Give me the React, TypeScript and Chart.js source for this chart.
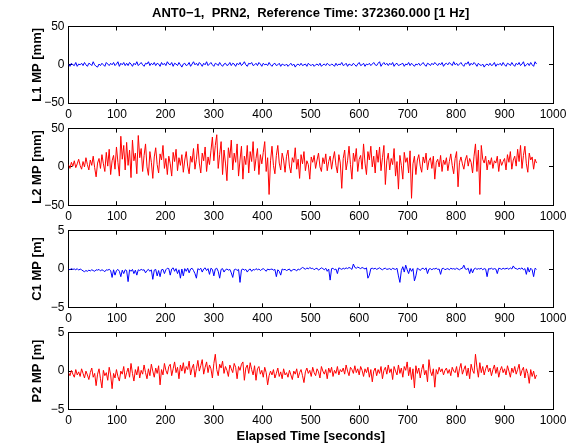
import React, { useEffect, useRef } from "react";
import { Chart, registerables } from "chart.js";

Chart.register(...registerables);

// ---------- data (one sample every 3 s) ----------
const SAMPLE_STEP_S = 3;

const L1_MP_MM = [
  1, -2, 2, 0, -1, 3, -2, 1, 0, 2,
  -1, 3, 0, -2, 2, 1, -1, 4, 0, -2,
  -3, 1, -1, 2, 0, -2, 3, 1, -1, 2,
  0, 3, -1, 1, 4, -2, 2, 0, 3, -1,
  2, -1, 3, 1, -2, 2, 0, 4, -1, 1,
  3, 0, -2, 2, 1, 4, -1, 2, 0, 3,
  -1, 2, 1, -2, 3, 0, 2, -1, 4, 1,
  0, 3, -2, 2, 1, -1, 3, 0, -3, 1,
  2, -1, 0, 3, -2, 1, 4, 0, 2, -1,
  3, 1, -2, 2, 0, 4, -1, 1, 3, 0,
  -2, 2, 1, -1, 3, 0, -2, 1, 2, -1,
  0, 3, -1, 2, 1, -2, 2, 0, 3, -1,
  1, 4, 0, -2, 2, 1, 3, -1, 0, 2,
  -1, 3, 1, -2, 2, 0, 1, -1, 3, 0,
  -2, 1, 2, -1, 0, 2, -2, 1, 0, -1,
  1, -2, 0, 2, -1, 1, -3, 0, 1, -1,
  2, -1, 0, 1, -2, 2, 0, -1, 1, -2,
  0, 1, -1, 2, -2, 0, 1, -1, 2, 0,
  -1, 1, 0, -2, 2, -1, 1, 0, 3, -1,
  0, 2, -2, 1, 0, -1, 2, 0, -2, 1,
  3, -1, 0, 2, -2, 1, 0, 2, -1, 1,
  3, 0, -1, 2, 4, -2, 1, 3, 0, 2,
  -1, 2, 0, 3, -2, 1, 2, -1, 0, 1,
  2, -2, 1, 0, 3, -1, 2, 0, -2, 1,
  0, 2, -1, 1, 3, 0, -2, 2, 1, -1,
  2, 0, 3, 1, -1, 2, 0, 3, -2, 1,
  2, 0, 3, 1, -1, 4, 0, 2, -1, 1,
  3, 0, -2, 2, 1, 4, -1, 2, 0, 3,
  1, -2, 2, 0, -1, 1, -3, 0, 1, -1,
  2, -1, 0, 3, -2, 1, 0, 2, -1, 3,
  0, -2, 2, 1, -1, 3, 0, -2, 2, 0,
  3, -1, 1, 4, -2, 0, 2, -1, 3, 0,
  -2, 4, 1,
];

const L2_MP_MM = [
  3, -2, 6, 1, 8, -1, 4, 10, 2, -3,
  7, 0, 12, 3, -4, 9, 2, 14, -1, -13,
  5, 11, -2, 16, 4, -6, 19, 1, 23, -10,
  8, 15, -3, 26, 6, -12, 40, 10, 28, -4,
  32, 2, 22, -14, 35, 8, 18, -9, 41, 12,
  24, -6, 15, 30, 0, -11, 20, 6, -15, 13,
  25, 3, -8, 17, 9, 28, -2, 11, -10, 14,
  4, -12, 19, 7, 23, -5, 12, 2, 16, -7,
  9, 20, 1, -9, 14, 6, 24, -3, 10, 30,
  5, -8, 18, 8, 26, -6, 13, 3, 21, 39,
  8, 28, 42, -2, 16, 33, -10, 22, 5, -18,
  25, 12, 35, -4, 18, 6, 30, -12, 9, 27,
  -16, 14, 3, 28, -8, 20, 7, 33, -5, 11,
  24, -10, 16, 4, 19, 33, -6, 12, -36, 8,
  27, 2, -9, 15, 28, 5, -4, 18, 9, -7,
  14, 22, 1, -8, 12, 6, 25, -3, 10, -15,
  16, 4, 20, -5, 8, 3, -16, 13, 6, 15,
  -2, 9, 18, 0, -6, 12, 4, 17, -5, 7,
  14, -3, 10, 20, 2, -8, 16, 5, -28, 11,
  22, -4, 8, 27, 3, -16, 18, 7, 24, -6,
  10, 15, -3, 30, 5, -10, 20, 9, 27, 0,
  14, -8, 22, 6, 26, -5, 12, 28, -23, 8,
  18, -4, 11, 3, 24, -12, 7, -29, 15, 2,
  -16, 19, 6, 12, -8, 21, -41, 4, 14, -10,
  9, 16, 1, -7, 13, 5, 18, -4, 8, 12,
  -2, 14, -16, 6, 10, 0, 15, -6, 9, 3,
  12, -5, 7, 17, 2, -9, 11, 20, -26, 6,
  13, 4, -3, 9, 15, 1, 11, 6, -8, 14,
  30, -6, 22, -36, 28, 10, 5, 14, -4, 9,
  3, 12, -2, 8, 5, 14, -6, 10, 2, 7,
  11, -4, 16, 6, 20, -3, 9, 14, 1, 23,
  7, 28, -2, 15, 27, 4, -7, 18, 9, 13,
  -3, 10, 5,
];

const C1_MP_M = [
  0.0, -0.1, 0.05, -0.05, 0.0, -0.1, 0.05, -0.15, 0.0, -0.1,
  -0.25, -0.35, -0.2, -0.3, -0.15, -0.25, -0.1, -0.2, -0.3, -0.1,
  -0.15, -0.05, -0.25, -0.1, -0.2, -0.35, -0.1, -0.15, -0.05, -0.2,
  -1.1, -0.1, -0.8, -0.2, -0.05, -0.3, -1.0, -0.15, -0.6, -0.1,
  -0.2, -1.65, -0.1, -0.3, -0.05, -0.6, -0.15, -0.8, -0.1, -0.2,
  -0.05, -0.15, -0.1, -0.5, -0.2, -0.05, -0.3, -0.1, -1.35, -0.15,
  -0.05, -0.9, -0.2, -1.0, -0.1, -0.05, -0.6, -0.1, 0.1, 0.05,
  -0.8, 0.0, 0.15, -0.3, 0.05, -0.6, -0.1, -1.2, 0.0, -0.9,
  0.05, -0.3, 0.1, -0.5, 0.0, 0.1, -0.2, -0.6, -1.2, 0.05,
  -0.1, 0.1, -0.4, 0.0, 0.15, -0.2, 0.05, -0.7, 0.1, -0.05,
  -0.9, 0.0, 0.1, -0.3, -1.2, -0.05, 0.05, -0.4, -0.1, 0.0,
  -0.15, -0.05, -0.5, -1.1, -0.1, 0.0, -0.2, -0.05, -1.75, -0.1,
  0.0, -0.15, -0.05, -0.4, -0.1, 0.0, -0.3, -0.05, -0.15, 0.05,
  -0.1, 0.0, -0.2, -0.05, 0.05, -0.1, -0.3, 0.0, -0.1, -0.05,
  0.0, -0.15, -0.05, -1.0, -0.1, -0.3, -0.8, 0.0, -0.1, -0.05,
  -0.2, -0.1, 0.0, -0.3, -0.15, -0.05, -0.1, -0.25, 0.0, -0.1,
  0.05, 0.2, 0.1, -0.05, 0.15, 0.0, 0.2, 0.05, 0.1, -0.1,
  0.05, 0.1, -0.15, 0.0, 0.15, 0.05, -0.1, 0.1, -0.3, 0.0,
  -1.45, 0.05, 0.1, -0.1, 0.0, -0.6, 0.15, 0.05, -0.05, 0.1,
  0.0, 0.15, 0.05, 0.2, 0.1, -0.05, 0.65, 0.2, 0.1, 0.25,
  0.15, 0.05, 0.2, 0.1, 0.0, 0.15, -1.2, -0.8, 0.05, 0.1,
  0.0, 0.1, -0.05, 0.05, 0.15, 0.0, -0.1, 0.05, 0.1, -0.05,
  0.0, 0.05, -0.1, 0.1, 0.0, -0.05, 0.1, -0.9, -1.75, -0.2,
  0.3, -0.4, 0.5, -0.1, -0.6, 0.1, -0.3, 0.05, -1.55, -0.9,
  0.1, 0.0, -0.2, 0.05, 0.1, -0.1, 0.15, -0.6, 0.0, 0.05,
  -0.1, 0.05, 0.0, 0.1, -0.05, 0.0, -0.7, 0.05, 0.1, -0.1,
  0.0, 0.05, -0.1, 0.1, 0.0, 0.05, -0.05, 0.1, 0.0, -0.1,
  0.05, 0.1, 0.5, 0.0, -0.05, 0.1, -0.6, 0.05, -0.5, 0.0,
  0.1, -0.05, 0.05, 0.0, 0.1, -0.1, 0.05, 0.0, -1.0, 0.05,
  0.0, 0.1, -0.05, 0.05, 0.0, -0.6, 0.1, 0.05, -0.05, 0.1,
  0.0, 0.05, 0.1, -0.05, 0.15, 0.0, 0.4, 0.1, 0.05, -0.05,
  0.1, 0.0, 0.15, -0.1, 0.05, -0.7, 0.2, -0.4, 0.1, -0.1,
  -1.0, 0.1, -0.05,
];

const P2_MP_M = [
  -0.2, -0.6, 0.1, -0.4, -0.8, 0.2, -0.5, -0.1, -0.7, 0.3,
  -0.3, -0.9, 0.0, -0.5, -1.1, -0.2, 0.4, -0.8, -0.3, -1.9,
  -0.4, 0.3, -1.0, -2.2, 0.1, -0.6, -0.2, -1.2, 0.5, -0.5,
  -2.3, -0.3, -0.9, 0.2, -0.7, -1.3, 0.0, -0.4, 0.6, -1.0,
  -0.2, 0.4, -0.8, 1.0, -0.3, -1.3, 0.2, -0.5, 0.6, -0.9,
  0.1, -0.4, 0.8, -0.2, -1.0, 0.3, -0.6, 0.9, 0.0, -0.8,
  0.4, -0.3, 0.7, -1.8, 0.2, -0.5, 1.0, 0.1, -0.4, 0.6,
  0.9, -0.6, 0.3, 1.2, -0.2, 0.5, -1.0, 0.8, 0.0, 1.1,
  -0.3, 0.6, 0.2, 1.3, -0.5, 0.4, 0.9, -0.8, 0.3, 1.4,
  0.0, 0.7, 1.5, -0.4, 0.5, 1.2, -0.2, 0.8, 0.3, -0.9,
  1.0, 2.2, 0.2, -0.6, 0.9, 0.4, 1.3, -0.3, 0.6, 0.1,
  -0.7, 0.8, 0.3, -0.2, 1.0, 0.5, -1.0, 0.6, 0.1, 0.9,
  1.2, -1.2, 0.4, 0.8, -0.3, 1.1, 0.2, -0.5, 0.7, -1.2,
  0.3, 0.6, -0.4, 0.1, -0.8, 0.5, -0.2, -1.8, -0.6, 0.0,
  -0.5, 0.2, -0.9, -0.3, 0.4, -0.7, -0.1, -1.0, 0.3, -0.5,
  -0.2, -0.8, 0.1, -0.5, -1.1, 0.0, -0.4, 0.3, -0.9, -0.2,
  0.2, -0.6, -1.5, -0.1, 0.4, -0.3, 0.1, -0.7, 0.5, -0.2,
  -0.6, 0.3, -0.1, -0.9, 0.6, 0.0, -0.4, 0.2, -1.0, 0.4,
  -0.2, 0.5, -0.7, 0.1, -0.3, 0.6, -0.5, 0.2, -0.1, 0.4,
  -0.4, 0.8, 0.0, -0.6, 0.5, 0.2, -0.3, 0.7, -0.2, 0.3,
  -0.5, 0.6, 0.1, -0.7, 0.3, -0.2, 0.5, -0.8, 0.2, -1.4,
  0.0, 0.4, -0.6, 0.2, -0.3, 0.6, -1.0, 0.1, 0.5, -0.4,
  0.8, -0.2, 0.3, -1.1, 0.6, 0.0, -0.5, 0.8, -0.3, 0.4,
  -0.8, 0.6, 0.1, 1.2, -0.6, 0.5, -1.1, 0.3, -2.2, 0.7,
  -0.3, 0.4, -0.9, 0.2, 0.9, -0.5, 0.1, -1.4, 1.5, 0.0,
  -0.6, 0.3, -2.1, 0.2, -0.4, 0.5, -0.1, 0.3, -0.5, 0.1,
  0.4, -0.3, 0.2, -0.6, 0.5, 0.0, -0.2, 0.6, -0.8, 0.3,
  1.0, -0.4, 0.2, 0.7, -0.6, 0.4, -1.0, 0.9, 0.1, -0.3,
  2.2, 0.5, -0.8, 1.1, -0.2, 0.6, -0.5, 0.3, 0.8, -0.1,
  0.4, -0.6, 0.2, 0.8, -0.3, 0.5, -0.8, 0.1, 0.6, -0.2,
  0.3, -0.5, 0.7, 0.0, -0.8, 0.4, -0.2, 0.6, -0.4, 0.2,
  0.9, -0.6, 0.1, 0.5, -0.9, 0.3, -0.3, -1.6, 0.2, -0.7,
  0.0, -1.0, -0.5,
];

const X_MIN = 0;
const X_MAX = 1000;
const X_STEP = 100;
const MM_RANGE = [-50, 50];
const MM_STEP = 50;
const M_RANGE = [-5, 5];
const M_STEP = 5;

const TITLE = "ANT0\u22121,  PRN2,  Reference Time: 372360.000 [1 Hz]";
const X_TITLE = "Elapsed Time [seconds]";
const Y_TITLES = ["L1 MP [mm]", "L2 MP [mm]", "C1 MP [m]", "P2 MP [m]"];
const SERIES = [L1_MP_MM, L2_MP_MM, C1_MP_M, P2_MP_M];
const COLORS = ["#0000ff", "#ff0000", "#0000ff", "#ff0000"];
const RANGES = [MM_RANGE, MM_RANGE, M_RANGE, M_RANGE];
const STEPS = [MM_STEP, MM_STEP, M_STEP, M_STEP];

// ---------- layout ----------
const FIG_W = 579;
const FIG_H = 444;
const AX_LEFT = 68.5;
const AX_RIGHT = 553;
const AX_TOPS = [26.5, 128.6, 230.7, 332.8];
const AX_HEIGHT = 76.6;
const Y_BOX_W = 39;
const FONT = "'Liberation Sans', Arial, Helvetica, sans-serif";

const fmtMinus = (v: number | string) => {
  const n = Number(v);
  return n < 0 ? "\u2212" + Math.abs(n) : String(n);
};

function buildConfig(i: number): any {
  const first = i === 0;
  const last = i === SERIES.length - 1;
  const top = AX_TOPS[i];
  const bottom = top + AX_HEIGHT;
  const xBoxH = last ? 34.4 : 20;
  const titleFontSize = 13;
  const titleLine = titleFontSize * 1.2;
  const titleTopPad = 5.2;
  const layoutTop = first ? titleTopPad : top;
  const titleBottomPad = top - titleTopPad - titleLine;

  const values = SERIES[i];
  const points = values.map((y, k) => ({ x: k * SAMPLE_STEP_S, y }));

  const tickFont = { family: FONT, size: 12 };
  const boldFont = { family: FONT, size: titleFontSize, weight: "bold", lineHeight: 1.2 };
  const gridOpts = {
    drawOnChartArea: false,
    drawTicks: true,
    tickLength: -4,
    tickColor: "#000",
    tickWidth: 1,
  };
  const borderOpts = { display: true, color: "#000", width: 1 };
  const [yMin, yMax] = RANGES[i];

  return {
    type: "line",
    data: {
      datasets: [
        {
          data: points,
          xAxisID: "x",
          yAxisID: "y",
          borderColor: COLORS[i],
          borderWidth: 1,
          pointRadius: 0,
          tension: 0,
          fill: false,
        },
      ],
    },
    options: {
      responsive: false,
      animation: false,
      devicePixelRatio: 1,
      events: [],
      layout: {
        padding: {
          left: AX_LEFT - Y_BOX_W,
          right: FIG_W - AX_RIGHT,
          top: layoutTop,
          bottom: FIG_H - bottom - xBoxH,
        },
      },
      plugins: {
        legend: { display: false },
        tooltip: { enabled: false },
        title: {
          display: first,
          text: TITLE,
          color: "#000",
          font: boldFont,
          fullSize: false,
          padding: { top: 0, bottom: titleBottomPad },
        },
      },
      scales: {
        x: {
          type: "linear",
          axis: "x",
          position: "bottom",
          min: X_MIN,
          max: X_MAX,
          ticks: {
            stepSize: X_STEP,
            font: tickFont,
            color: "#000",
            padding: 8.5,
            maxRotation: 0,
            autoSkip: false,
            callback: fmtMinus,
          },
          grid: gridOpts,
          border: borderOpts,
          title: {
            display: last,
            text: X_TITLE,
            color: "#000",
            font: boldFont,
            padding: 0,
          },
          afterFit: (s: any) => {
            s.height = xBoxH;
          },
        },
        xTop: {
          type: "linear",
          axis: "x",
          position: "top",
          min: X_MIN,
          max: X_MAX,
          ticks: { stepSize: X_STEP, display: false },
          grid: gridOpts,
          border: borderOpts,
          afterFit: (s: any) => {
            s.height = 0;
          },
        },
        y: {
          type: "linear",
          axis: "y",
          position: "left",
          min: yMin,
          max: yMax,
          ticks: {
            stepSize: STEPS[i],
            font: tickFont,
            color: "#000",
            padding: 8,
            callback: fmtMinus,
          },
          grid: gridOpts,
          border: borderOpts,
          title: {
            display: true,
            text: Y_TITLES[i],
            color: "#000",
            font: boldFont,
            padding: 0,
          },
          afterFit: (s: any) => {
            s.width = Y_BOX_W;
          },
        },
        yRight: {
          type: "linear",
          axis: "y",
          position: "right",
          min: yMin,
          max: yMax,
          ticks: { stepSize: STEPS[i], display: false },
          grid: gridOpts,
          border: borderOpts,
          afterFit: (s: any) => {
            s.width = 0;
          },
        },
      },
    },
  };
}

export default function App() {
  const refs = useRef<(HTMLCanvasElement | null)[]>([]);

  useEffect(() => {
    const charts: Chart[] = [];
    SERIES.forEach((_, i) => {
      const c = refs.current[i];
      if (c) charts.push(new Chart(c, buildConfig(i)));
    });
    return () => charts.forEach((c) => c.destroy());
  }, []);

  return (
    <div
      style={{
        position: "absolute",
        left: 0,
        top: 0,
        width: FIG_W,
        height: FIG_H,
        background: "#fff",
      }}
    >
      {SERIES.map((_, i) => (
        <canvas
          key={i}
          ref={(el) => {
            refs.current[i] = el;
          }}
          width={FIG_W}
          height={FIG_H}
          style={{ position: "absolute", left: 0, top: 0, width: FIG_W, height: FIG_H }}
        />
      ))}
    </div>
  );
}
